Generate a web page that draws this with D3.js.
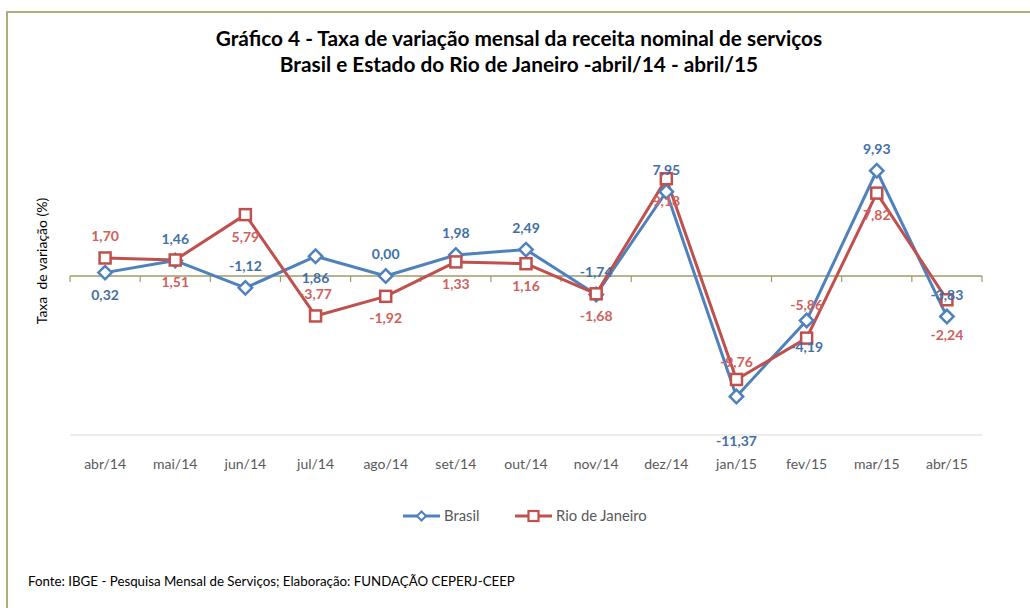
<!DOCTYPE html>
<html>
<head>
<meta charset="utf-8">
<script src="https://cdn.jsdelivr.net/npm/d3@7"></script>
<style>
  body { margin: 0; background: #fff; }
  svg { display: block; }
</style>
</head>
<body>
<div id="chart"></div>
<script>
// chart values
var months = ["abr/14", "mai/14", "jun/14", "jul/14", "ago/14", "set/14", "out/14",
              "nov/14", "dez/14", "jan/15", "fev/15", "mar/15", "abr/15"];
var brasil = [0.32, 1.46, -1.12, 1.86, 0.00, 1.98, 2.49, -1.74, 7.95, -11.37, -4.19, 9.93, -3.83];
var rio = [1.70, 1.51, 5.79, -3.77, -1.92, 1.33, 1.16, -1.68, 9.18, -9.76, -5.86, 7.82, -2.24];
var yDomain = [-15, 15];

// where Excel put each data label: negative = above the point, positive = below
var brasilLabelSide = [1, -1, -1, 1, -1, -1, -1, -1, -1, 2, 1.2, -1, -1];
var rioLabelSide = [-1, 1, 1, -1, 1, 1, 1, 1, 1, -0.8, -1.5, 1, 1.6];

var width = 1030, height = 608;
var blue = "#4f81bd", red = "#c0504d";
var font = "Lato, 'Open Sans', sans-serif";

function fmt(v) {
    return v.toFixed(2).replace(".", ",");
}

function render() {
    var svg = d3.select("#chart").append("svg")
        .attr("width", width)
        .attr("height", height)
        .style("font-family", font);

    // outer frame
    svg.append("rect")
        .attr("x", 7).attr("y", 12)
        .attr("width", 1040).attr("height", 620)
        .attr("fill", "none")
        .attr("stroke", "#b3aa80")
        .attr("stroke-width", 2);

    svg.append("text")
        .attr("x", 519).attr("y", 46)
        .attr("text-anchor", "middle")
        .style("font-size", "20.8px").style("font-weight", "bold")
        .text("Gráfico 4 - Taxa de variação mensal da receita nominal de serviços");
    svg.append("text")
        .attr("x", 519).attr("y", 72)
        .attr("text-anchor", "middle")
        .style("font-size", "20.8px").style("font-weight", "bold")
        .text("Brasil e Estado do Rio de Janeiro -abril/14 - abril/15");

    var x = d3.scaleBand()
        .domain(months)
        .range([70, 982])
        .padding(0);

    var y = d3.scaleLinear()
        .domain(yDomain)
        .range([435, 117]);

    var cx = function (i) { return x(months[i]) + x.bandwidth() / 2; };

    // plot bottom border
    svg.append("line")
        .attr("x1", 70).attr("x2", 982)
        .attr("y1", y(yDomain[0])).attr("y2", y(yDomain[0]))
        .attr("stroke", "#d9d9d9");

    // category labels
    var xAxis = d3.axisBottom(x).tickSize(0).tickPadding(0);
    var gx = svg.append("g")
        .attr("transform", "translate(0," + (y(yDomain[0]) + 24) + ")")
        .call(xAxis);
    gx.select(".domain").remove();
    gx.selectAll("text")
        .style("font-family", font)
        .style("font-size", "14px")
        .attr("fill", "#595959");

    // zero line with ticks between categories
    var zero = y(0);
    svg.append("line")
        .attr("x1", 70).attr("x2", 982)
        .attr("y1", zero).attr("y2", zero)
        .attr("stroke", "#9d9b66")
        .attr("stroke-width", 1.5);
    svg.selectAll(".ztick")
        .data(months.concat(["end"]))
        .enter().append("line")
        .attr("x1", function (d, i) { return 70 + i * x.step(); })
        .attr("x2", function (d, i) { return 70 + i * x.step(); })
        .attr("y1", zero).attr("y2", zero + 6)
        .attr("stroke", "#9d9b66")
        .attr("stroke-width", 1.2);

    // y axis title
    svg.append("text")
        .attr("transform", "translate(47,261) rotate(-90)")
        .attr("text-anchor", "middle")
        .attr("xml:space", "preserve")
        .style("font-size", "14px")
        .text("Taxa  de variação (%)");

    var line = d3.line()
        .x(function (d, i) { return cx(i); })
        .y(function (d) { return y(d); });

    svg.append("path").datum(brasil)
        .attr("d", line)
        .attr("fill", "none").attr("stroke", blue)
        .attr("stroke-width", 3).attr("stroke-linejoin", "round");
    svg.append("path").datum(rio)
        .attr("d", line)
        .attr("fill", "none").attr("stroke", red)
        .attr("stroke-width", 3).attr("stroke-linejoin", "round");

    var diamond = d3.symbol().type(d3.symbolSquare).size(90);
    svg.selectAll(".bmark")
        .data(brasil)
        .enter().append("path")
        .attr("d", diamond)
        .attr("transform", function (d, i) { return "translate(" + cx(i) + "," + y(d) + ") rotate(45)"; })
        .attr("fill", "#fff").attr("stroke", blue).attr("stroke-width", 2.5);

    svg.selectAll(".rmark")
        .data(rio)
        .enter().append("rect")
        .attr("x", function (d, i) { return cx(i) - 5.5; })
        .attr("y", function (d) { return y(d) - 5.5; })
        .attr("width", 11).attr("height", 11)
        .attr("fill", "#fff").attr("stroke", red).attr("stroke-width", 2.5);

    // data labels
    svg.selectAll(".blabel")
        .data(brasil)
        .enter().append("text")
        .attr("x", function (d, i) { return cx(i); })
        .attr("y", function (d, i) { return y(d) + brasilLabelSide[i] * 22 + 5; })
        .attr("text-anchor", "middle")
        .style("font-size", "14px").style("font-weight", "bold")
        .attr("fill", "#416fa6")
        .text(fmt);

    svg.selectAll(".rlabel")
        .data(rio)
        .enter().append("text")
        .attr("x", function (d, i) { return cx(i); })
        .attr("y", function (d, i) { return y(d) + rioLabelSide[i] * 22 + 5; })
        .attr("text-anchor", "middle")
        .style("font-size", "14px").style("font-weight", "bold")
        .attr("fill", "#d0605b")
        .text(fmt);

    // legend
    var legend = [
        { name: "Brasil", color: blue, x: 403, square: false },
        { name: "Rio de Janeiro", color: red, x: 515, square: true }
    ];
    var lg = svg.selectAll(".legend")
        .data(legend)
        .enter().append("g")
        .attr("transform", function (d) { return "translate(" + d.x + ",516)"; });
    lg.append("line")
        .attr("x1", 0).attr("x2", 37)
        .attr("stroke", function (d) { return d.color; })
        .attr("stroke-width", 3);
    lg.filter(function (d) { return !d.square; }).append("path")
        .attr("d", d3.symbol().type(d3.symbolSquare).size(40))
        .attr("transform", "translate(18.5,0) rotate(45)")
        .attr("fill", "#fff").attr("stroke", blue).attr("stroke-width", 2);
    lg.filter(function (d) { return d.square; }).append("rect")
        .attr("x", 13.5).attr("y", -5).attr("width", 10).attr("height", 10)
        .attr("fill", "#fff").attr("stroke", red).attr("stroke-width", 2.2);
    lg.append("text")
        .attr("x", 41).attr("y", 5)
        .style("font-size", "14.8px")
        .attr("fill", "#595959")
        .text(function (d) { return d.name; });

    svg.append("text")
        .attr("x", 28).attr("y", 586)
        .style("font-size", "13.3px")
        .text("Fonte: IBGE - Pesquisa Mensal de Serviços; Elaboração: FUNDAÇÃO CEPERJ-CEEP");
}

render();
</script>
</body>
</html>
